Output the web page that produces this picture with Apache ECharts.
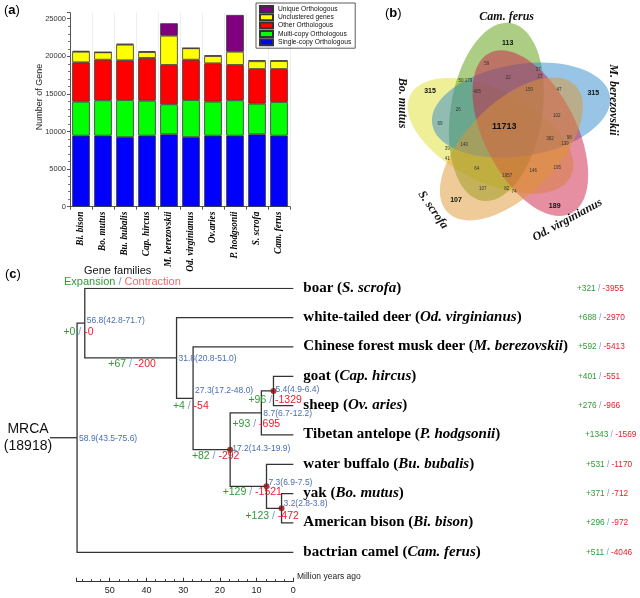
<!DOCTYPE html>
<html><head><meta charset="utf-8">
<script src="https://cdn.jsdelivr.net/npm/echarts@6/dist/echarts.min.js"></script>
<style>html,body{margin:0;padding:0;background:#fff}#c{width:640px;height:598px}</style>
</head><body><div id="c"></div>
<script>
// ---------------- Panel (a) data ----------------
const species = ['Bi. bison','Bo. mutus','Bu. bubalis','Cap. hircus','M. berezovskii','Od. virginianus','Ov.aries','P. hodgsonii','S. scrofa','Cam. ferus'];
const singleCopy  = [9450, 9450, 9250, 9450, 9630, 9250, 9450, 9450, 9630, 9450];
const multiCopy   = [4520, 4700, 4940, 4650, 3990, 4940, 4520, 4700, 4070, 4480];
const otherOrtho  = [5230, 5400, 5280, 5680, 5230, 5360, 5100, 4700, 4610, 4380];
const unclustered = [1410, 980, 2080, 790, 3890, 1520, 970, 1760, 1030, 1070];
const uniqueOrtho = [100, 30, 120, 100, 1650, 30, 80, 4890, 150, 60];
const seriesNames = ['Single-copy Orthologous','Multi-copy Orthologous','Other Orthologous','Unclustered genes','Unique Orthologous'];
const legendOrder = ['Unique Orthologous','Unclustered genes','Other Orthologous','Multi-copy Orthologous','Single-copy Orthologous'];

// ---------------- Panel (b) data ----------------
const vennSets = ['Cam. ferus','M. berezovskii','Od. virginianus','S. scrofa','Bo. mutus'];
const vennCounts = [113,315,315,107,189,11713,59,37,27,50,179,22,405,150,47,26,102,69,382,98,139,39,140,41,64,1957,146,195,107,82,74];

// ---------------- Panel (c) data ----------------
const taxonCommon = ['boar','white-tailed deer','Chinese forest musk deer','goat','sheep','Tibetan antelope','water buffalo','yak','American bison','bactrian camel'];
const taxonLatin  = ['S. scrofa','Od. virginianus','M. berezovskii','Cap. hircus','Ov. aries','P. hodgsonii','Bu. bubalis','Bo. mutus','Bi. bison','Cam. ferus'];
const tipGains  = [321, 688, 592, 401, 276, 1343, 531, 371, 296, 511];
const tipLosses = [3955, 2970, 5413, 551, 966, 1569, 1170, 712, 972, 4046];
const nodeNames = ['root','n56','n31','n27','n17','n8','n5','n7','n3'];
const nodeAge   = [58.9, 56.8, 31.8, 27.3, 17.2, 8.7, 5.4, 7.3, 3.2];
const nodeCI    = ['43.5-75.6','42.8-71.7','20.8-51.0','17.2-48.0','14.3-19.9','6.7-12.2','4.9-6.4','6.9-7.5','2.8-3.8'];
const nodeGain  = [null, 0, 67, 4, 82, 93, 96, 129, 123];
const nodeLoss  = [null, 0, 200, 54, 292, 695, 1329, 1521, 472];
const nodeChildren = {root:['n56',9], n56:[0,'n31'], n31:[1,'n27'], n27:[2,'n17'], n17:['n8','n7'], n8:['n5',5], n5:[3,4], n7:[6,'n3'], n3:[7,8]};
const dottedNodes = ['n5','n17','n7','n3'];
const rootCount = 18918;
const timeTicks = [0,10,20,30,40,50];

// ---------------- styles / layout ----------------
const SANS = 'Liberation Sans, Arial, sans-serif';
const SERIF = 'Liberation Serif, Times New Roman, serif';
const GREEN = '#2f9a35', RED = '#e8202a', BLUE = '#4a6db3', SLASH = '#7a98cc';
const barColors = ['#0000ff','#00ff00','#ff0000','#ffff00','#800080'];
const vennFill = ['rgba(88,158,10,0.5)','rgba(50,138,205,0.5)','rgba(205,30,70,0.5)','rgba(222,152,52,0.5)','rgba(224,224,50,0.5)'];
const vennDrawOrder = [4,0,1,2,3];
const vennPos = [[507.7,42.7],[430,90.7],[593.3,92.7],[456,200],[554.7,205.7],[504.3,126.7],
 [486.7,63.3],[538.3,70],[540,76.7],[461,80.7],[468.5,80.7],[508.3,77.7],[477.3,91.7],[529.3,90],[559,90],[458.3,110],[556.7,116],[440,124],[550,139],[569.3,137.3],[565,143.3],[447.3,148.3],[464.3,144.3],[447.3,158.3],[476.7,168.3],[507.3,175.7],[533.3,171],[557.3,167.3],[482.7,189],[506.7,189],[514,191.7]];
const vennLabelPos = [[506.7,16.7,0],[613,100,-90],[567.5,220,28.5],[433,210,-55],[401.7,103,-90]];
const ageLabelDy = [0.6,-2.3,0.6,-7.3,-1.3,0.7,-1,-3.4,-4.7];
const changeLabelOff = [null,[8.7,9],[-20.7,6.6],[15.7,7.7],[9.3,6],[18.7,11],[28.4,9],[15.4,5.6],[17.3,7.7]];
const gainLabelX = [577,578,578,578,578,585,586,586,586,586];

const chart = echarts.init(document.getElementById('c'));

// tree layout
const nodeY = {};
function yOf(k){ if(typeof k==='number') return k; if(nodeY[k]!==undefined) return nodeY[k];
  const c = nodeChildren[k]; const v = (yOf(c[0])+yOf(c[1]))/2; nodeY[k]=v; return v; }
function ageOf(k){ return typeof k==='number' ? 0 : nodeAge[nodeNames.indexOf(k)]; }
nodeNames.forEach(yOf);
const branchData = [];
nodeNames.forEach(k => nodeChildren[k].forEach(c => {
  branchData.push({coords:[[ageOf(k),yOf(k)],[ageOf(k),yOf(c)],[ageOf(c),yOf(c)]]});
}));

const barData = [singleCopy, multiCopy, otherOrtho, unclustered, uniqueOrtho];
const barSeries = barData.map((d,i)=>({
  type:'bar', name:seriesNames[i], stack:'genes', data:d, xAxisIndex:0, yAxisIndex:0,
  barWidth:'80%', itemStyle:{color:barColors[i], borderColor:'#333', borderWidth:0.8}
}));

const option = {
  animation:false,
  textStyle:{fontFamily:SANS},
  grid:[{left:70, right:350, top:12.7, bottom:391.3},
        {left:76.7, right:346.7, top:288.3, bottom:45.7}],
  legend:{orient:'vertical', left:256, top:3, data:legendOrder, icon:'rect', itemWidth:13, itemHeight:6, itemGap:0.3,
    padding:[2,4,2,3], borderColor:'#333', borderWidth:0.8, selectedMode:false,
    textStyle:{fontSize:6.7, lineHeight:7.3, color:'#111', fontFamily:SANS}},
  xAxis:[
    {gridIndex:0, type:'category', data:species,
     axisLine:{lineStyle:{color:'#555'}}, axisTick:{show:true, length:3, lineStyle:{color:'#555'}},
     splitLine:{show:true, lineStyle:{color:'#eeeeee'}},
     axisLabel:{rotate:90, interval:0, fontFamily:SERIF, fontStyle:'italic', fontWeight:'bold', fontSize:9.3, color:'#000', margin:5}},
    {gridIndex:1, type:'value', inverse:true, min:0, max:59, interval:10, offset:29.4, position:'bottom',
     axisLine:{onZero:false, lineStyle:{color:'#333'}}, axisTick:{inside:true, length:4, lineStyle:{color:'#333'}},
     minorTick:{show:true, splitNumber:4, length:2.5, lineStyle:{color:'#333'}}, splitLine:{show:false},
     axisLabel:{fontSize:9, color:'#222', margin:4, showMaxLabel:false, fontFamily:SANS,
       formatter:v => timeTicks.includes(v) ? String(v) : ''}}
  ],
  yAxis:[
    {gridIndex:0, type:'value', min:0, max:25800, interval:5000,
     axisLine:{show:true, lineStyle:{color:'#555'}}, axisTick:{show:true, length:3, lineStyle:{color:'#555'}},
     minorTick:{show:true, splitNumber:5, length:2, lineStyle:{color:'#777'}}, splitLine:{show:false},
     axisLabel:{fontSize:7.5, color:'#333', margin:4, showMaxLabel:false, formatter:v => String(v)}},
    {gridIndex:1, type:'value', min:0, max:9, inverse:true, show:false}
  ],
  series: barSeries.concat([
    {type:'lines', coordinateSystem:'cartesian2d', xAxisIndex:1, yAxisIndex:1, polyline:true, data:branchData,
     lineStyle:{color:'#333', width:1.3, opacity:1}, silent:true},
    {type:'scatter', xAxisIndex:1, yAxisIndex:1, symbolSize:6, z:5, itemStyle:{color:'#8b1010'},
     data: dottedNodes.map(k=>[ageOf(k), yOf(k)])}
  ])
};
chart.setOption(option);

const px = (a,y) => chart.convertToPixel({gridIndex:1},[a,y]);
const g = [];
// panel labels
const panelRich = {n:{fontSize:13, fontFamily:SANS, fill:'#000'}, b:{fontSize:13, fontFamily:SANS, fontWeight:'bold', fill:'#000'}};
[['a',4,10],['b',385,13],['c',5,274]].forEach(p=>g.push({type:'text', x:p[1], y:p[2],
  style:{text:'{n|(}{b|'+p[0]+'}{n|)}', rich:panelRich, verticalAlign:'middle', align:'left'}}));
// y axis name (a)
g.push({type:'text', x:40, y:97, rotation:Math.PI/2, style:{text:'Number of Gene', fontSize:9, fontFamily:SANS, fill:'#222', align:'center', verticalAlign:'middle'}});

// Venn ellipses
const VC=[510,128], VD=21, VA=90, VB=46;
const ell = [];
for(let i=0;i<5;i++){
  const phi = (-81 + 72*i)*Math.PI/180, off = phi - 49*Math.PI/180;
  ell.push({cx:VC[0]+VD*Math.cos(off), cy:VC[1]+VD*Math.sin(off), phi});
}
vennDrawOrder.forEach(i=>g.push({type:'ellipse', x:ell[i].cx, y:ell[i].cy, rotation:-ell[i].phi,
  shape:{cx:0, cy:0, rx:VA, ry:VB}, style:{fill:vennFill[i], stroke:null}, silent:true}));
vennCounts.forEach((v,i)=>{
  const big = i<6;
  g.push({type:'text', x:vennPos[i][0], y:vennPos[i][1], style:{text:String(v), align:'center', verticalAlign:'middle',
    fontSize: i===5 ? 9 : (big ? 7 : 4.5), fontWeight: big ? 'bold' : 'normal', fontFamily:SANS, fill: big ? '#111' : '#333'}});
});
vennSets.forEach((s,i)=>{
  const p = vennLabelPos[i];
  g.push({type:'text', x:p[0], y:p[1], rotation:p[2]*Math.PI/180, style:{text:s, align:'center', verticalAlign:'middle',
    fontSize:12, fontFamily:SERIF, fontStyle:'italic', fontWeight:'bold', fill:'#111'}});
});

// Panel (c) header texts
g.push({type:'text', x:84, y:271, style:{text:'Gene families', fontSize:11, fontFamily:SANS, fill:'#111', verticalAlign:'middle'}});
g.push({type:'text', x:64, y:281.5, style:{text:'{g|Expansion}{s| / }{r|Contraction}', verticalAlign:'middle',
  rich:{g:{fill:GREEN, fontSize:11, fontFamily:SANS}, s:{fill:SLASH, fontSize:11, fontFamily:SANS}, r:{fill:'#f06a6a', fontSize:11, fontFamily:SANS}}}});
// root
const rp = px(ageOf('root'), yOf('root'));
g.push({type:'line', shape:{x1:50, y1:rp[1], x2:rp[0], y2:rp[1]}, style:{stroke:'#333', lineWidth:1.3}});
g.push({type:'text', x:28, y:rp[1]-8.5, style:{text:'MRCA', fontSize:14, fontFamily:SANS, fill:'#111', align:'center', verticalAlign:'middle'}});
g.push({type:'text', x:28, y:rp[1]+8.5, style:{text:'('+rootCount+')', fontSize:14, fontFamily:SANS, fill:'#111', align:'center', verticalAlign:'middle'}});
// axis name
g.push({type:'text', x:297, y:577, style:{text:'Million years ago', fontSize:8.5, fontFamily:SANS, fill:'#222', verticalAlign:'middle'}});

// tips
const tipRich = {n:{fontFamily:SERIF, fontWeight:'bold', fontSize:15, fill:'#000'}, i:{fontFamily:SERIF, fontWeight:'bold', fontStyle:'italic', fontSize:15, fill:'#000'}};
const chRich = (fs)=>({g:{fill:GREEN, fontSize:fs, fontFamily:SANS}, s:{fill:SLASH, fontSize:fs, fontFamily:SANS}, r:{fill:RED, fontSize:fs, fontFamily:SANS}});
taxonCommon.forEach((c,i)=>{
  const p = px(0,i);
  g.push({type:'text', x:p[0]+10, y:p[1]-0.5, style:{text:'{n|'+c+' (}{i|'+taxonLatin[i]+'}{n|)}', rich:tipRich, align:'left', verticalAlign:'middle'}});
  g.push({type:'text', x:gainLabelX[i], y:p[1], style:{text:'{g|+'+tipGains[i]+'}{s| / }{r|-'+tipLosses[i]+'}', rich:chRich(8.3), align:'left', verticalAlign:'middle'}});
});
// internal node labels
nodeNames.forEach((k,i)=>{
  const p = px(nodeAge[i], yOf(k));
  g.push({type:'text', x:p[0]+2, y:p[1]+ageLabelDy[i], z:10, style:{text:nodeAge[i].toFixed(1)+'('+nodeCI[i]+')',
    fontSize:8.5, fontFamily:SANS, fill:BLUE, align:'left', verticalAlign:'middle'}});
  if(nodeGain[i]!==null){
    const o = changeLabelOff[i];
    g.push({type:'text', x:p[0]+o[0], y:p[1]+o[1], z:10, style:{text:'{g|+'+nodeGain[i]+'}{s| / }{r|-'+nodeLoss[i]+'}',
      rich:chRich(10.5), align:'right', verticalAlign:'middle'}});
  }
});
chart.setOption({graphic:g});
</script></body></html>
